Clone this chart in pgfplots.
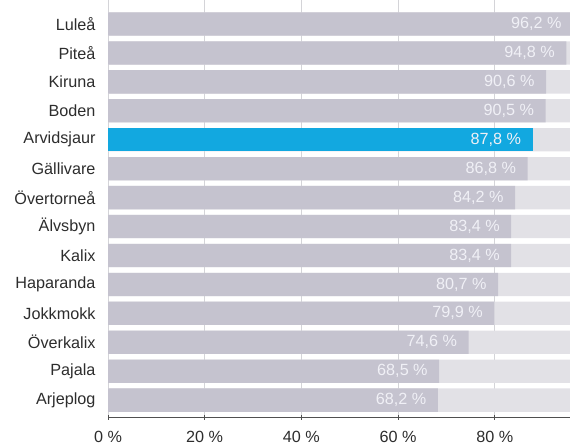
\documentclass[border=0pt]{standalone}
\usepackage{fontspec}
\setmainfont{Liberation Sans}
\usepackage{pgfplots}
\pgfplotsset{compat=1.18}
\definecolor{bg}{RGB}{226,225,230}
\definecolor{barg}{RGB}{197,195,207}
\definecolor{blu}{RGB}{18,168,224}
\definecolor{gridc}{RGB}{212,212,216}
\definecolor{lab}{RGB}{240,240,246}
\definecolor{txt}{RGB}{45,45,45}
\definecolor{axc}{RGB}{80,80,80}
\begin{document}
\begin{tikzpicture}[font=\fontsize{16.2pt}{19pt}\selectfont]
\useasboundingbox (0,0) rectangle (570pt,446pt);
\clip (0,0) rectangle (570pt,446pt);
\begin{axis}[
  at={(108pt,28.5pt)}, anchor=south west,
  scale only axis, width=483.5pt, height=417.5pt,
  xmin=0, xmax=100, ymin=-0.6, ymax=13.83,
  xbar, bar width=23.3pt, /pgf/bar shift=0pt,
  axis x line*=bottom, axis y line*=left,
  y axis line style={draw=none},
  x axis line style={draw=axc, line width=1.3pt},
  xtick={0,20,40,60,80},
  xticklabels={0 \%,20 \%,40 \%,60 \%,80 \%},
  ytick={0,...,13},
  yticklabels={Arjeplog,Pajala,Överkalix,Jokkmokk,Haparanda,Kalix,Älvsbyn,Övertorneå,Gällivare,Arvidsjaur,Boden,Kiruna,Piteå,Luleå},
  xmajorgrids, grid style={draw=gridc, line width=0.8pt},
  ytick style={draw=none},
  xtick style={draw=axc, line width=1pt},
  major tick length=5pt, tick align=center,
  xticklabel style={text=txt, inner sep=0pt, yshift=-10.5pt},
  yticklabel style={text=txt, xshift=-6.5pt},
  point meta=x,
  nodes near coords={\pgfmathprintnumber[fixed,fixed zerofill,precision=1,use comma,assume math mode=true]{\pgfplotspointmeta}\ \%},
  every node near coord/.append style={anchor=east, xshift=-8pt, text=lab},
]
\addplot[fill=bg, draw=none, nodes near coords={}] coordinates {
 (100,0) (100,1) (100,2) (100,3) (100,4) (100,5) (100,6) (100,7) (100,8) (100,9) (100,10) (100,11) (100,12) (100,13)};
\addplot[fill=barg, draw=none] coordinates {
 (68.2,0) (68.5,1) (74.6,2) (79.9,3) (80.7,4) (83.4,5) (83.4,6) (84.2,7) (86.8,8) (90.5,10) (90.6,11) (94.8,12) (96.2,13)};
\addplot[fill=blu, draw=none] coordinates {(87.8,9)};
\end{axis}
\end{tikzpicture}
\end{document}
